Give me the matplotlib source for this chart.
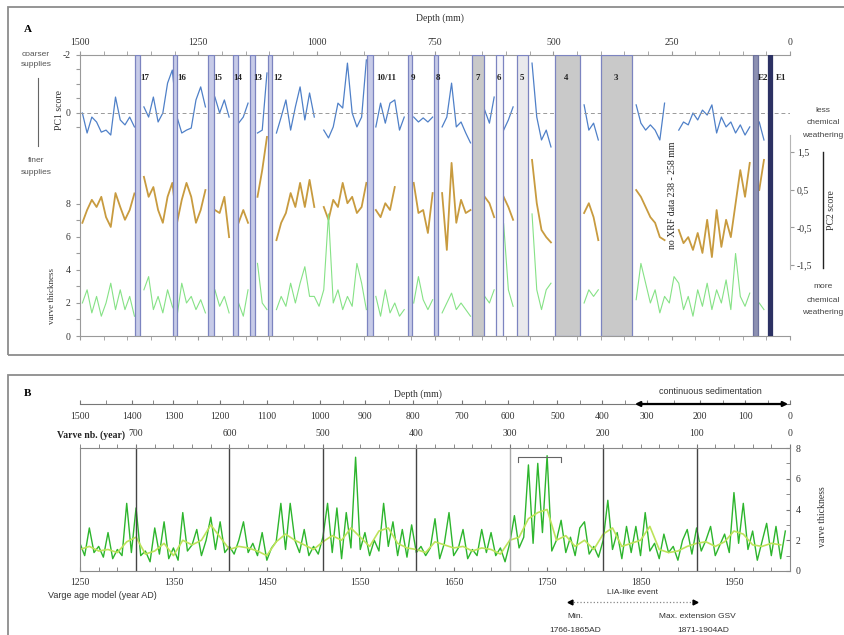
import numpy as np
import matplotlib
matplotlib.use("Agg")
import matplotlib.pyplot as plt
from matplotlib.lines import Line2D
from matplotlib.patches import Rectangle
from matplotlib.ticker import FixedLocator, MultipleLocator

plt.rcParams["font.family"] = "Liberation Serif"
SANS = "Liberation Sans"
nan = np.nan

# ---------------------------------------------------------------------------
# Panel A data: XRF PCA scores and thickness, 10 mm steps along depth
# ---------------------------------------------------------------------------
depth_a = np.arange(1495, 0, -10)

pc1 = [0.0, 0.69, 0.14, 0.31, 0.66, 0.59, 0.76, -0.55, 0.24, 0.41, 0.14, 0.48,
       nan,
       -0.21, 0.14, -0.55, 0.31, 0.0, -1.03, -1.48, 0.14, 0.69, 0.59, 0.52, -0.45, -0.90, -0.21,
       nan,
       -0.55, 0.0, -0.45, 0.14,
       nan,
       0.35, 0.14, -0.34,
       nan,
       0.69, 0.59, -1.38,
       nan,
       0.69, 0.14, -0.45, 0.59, -0.21, -0.90, 0.24, -0.69, 0.14,
       nan,
       0.59, 0.86, 0.48, -0.34, -0.17, -1.72, 0.0, 0.48, 0.14, -1.83,
       nan,
       0.48, -0.34, 0.35, -0.34, -0.45, 0.59, 0.14,
       nan,
       0.14, 0.31, 0.17, 0.31, 0.14,
       nan,
       0.48, 0.14, -1.03, 0.48, 0.31, 0.69, 1.03,
       nan, nan,
       -0.10, 0.35, -0.55,
       nan,
       0.59, 0.24, -0.21,
       nan, nan, nan,
       -1.72, 0.14, 0.93, 0.59, 1.17,
       nan, nan, nan, nan, nan, nan,
       -0.28, 0.59, 0.35, 0.93,
       nan, nan, nan, nan, nan, nan, nan,
       -0.28, 0.35, 0.59, 0.41, 0.59, 0.93, -0.34,
       nan, nan,
       0.59, 0.31, 0.41, 0.0, 0.24, -0.10, 0.07, -0.28, 0.69, 0.14, 0.48, 0.31, 0.69, 0.41, 0.76, 0.48,
       nan,
       0.31, 0.93,
       nan, nan, nan, nan, nan]

pc2 = [-0.38, -0.04, 0.23, 0.04, 0.31, -0.23, -0.49, 0.41, 0.04, -0.30, -0.04, 0.40,
       nan,
       0.84, 0.31, 0.57, -0.04, -0.38, 0.31, 0.68, -0.38, 0.23, 0.68, 0.31, -0.38, -0.04, 0.49,
       nan,
       -0.04, -0.12, 0.31, -0.76,
       nan,
       -0.38, -0.04, -0.38,
       nan,
       0.31, 1.02, 1.90,
       nan,
       -0.84, -0.38, -0.12, 0.41, 0.04, 0.68, 0.04, 0.76, 0.04,
       nan,
       0.04, -0.30, 0.23, 0.04, 0.68, 0.14, 0.31, -0.12, 0.04, 0.68,
       nan,
       -0.04, -0.23, 0.14, -0.04, 0.57,
       nan, nan, nan,
       0.68, -0.12, -0.04, -0.65, 0.41,
       nan,
       0.41, -1.10, 1.21, -0.38, 0.23, -0.12, -0.04,
       nan, nan,
       0.31, 0.14, -0.23,
       nan,
       0.31, 0.04, -0.30,
       nan, nan, nan,
       1.29, 0.14, -0.57, -0.76, -0.90,
       nan, nan, nan, nan, nan, nan,
       -0.12, 0.14, -0.23, -0.84,
       nan, nan, nan, nan, nan, nan, nan,
       0.49, 0.31, 0.04, -0.23, -0.38, -0.76, -0.84,
       nan, nan,
       -0.57, -0.92, -0.76, -1.10, -0.65, -1.18, -0.30, -1.29, -0.04, -1.02, -0.30, -0.76, 0.14, 1.02, 0.31, 1.21,
       nan,
       0.49, 1.29,
       nan, nan, nan, nan, nan]

thick_a = [2.0, 2.8, 1.4, 2.4, 1.2, 2.0, 3.2, 1.6, 2.8, 1.6, 2.4, 1.2,
           nan,
           2.8, 3.6, 1.6, 2.4, 1.4, 2.8, 1.8, 1.2, 3.2, 2.0, 2.4, 1.6, 2.2, 1.4,
           nan,
           2.8, 1.8, 2.4, 1.4,
           nan,
           2.0, 1.2, 2.8,
           nan,
           4.4, 2.0, 1.6,
           nan,
           1.6, 2.4, 1.8, 3.2, 2.0, 3.2, 4.2, 2.4, 2.4, 1.8,
           2.8, 7.4, 2.0, 2.8, 1.6, 2.4, 1.8, 4.4, 3.2, 1.6,
           nan,
           2.4, 1.2, 2.8, 1.4, 2.0, 1.2, 1.6,
           nan,
           2.0, 3.6, 2.2, 1.6, 2.2,
           nan,
           1.4, 2.0, 2.6, 1.6, 2.0, 1.6, 1.2,
           nan, nan,
           2.4, 2.0, 2.8,
           nan,
           6.8, 2.8, 1.8,
           nan, nan, nan,
           7.4, 2.8, 1.6, 2.8, 3.2,
           nan, nan, nan, nan, nan, nan,
           2.0, 2.8, 2.4, 2.8,
           nan, nan, nan, nan, nan, nan, nan,
           2.2, 4.4, 3.2, 2.0, 2.8, 1.4, 2.4, 2.0, 3.6, 3.2, 1.6, 2.4, 1.2,
           2.8, 1.8, 3.2, 1.6, 2.8, 2.0, 3.4, 1.6, 5.0, 2.4, 1.8, 2.6,
           nan,
           2.0, 1.6,
           nan, nan, nan, nan, nan]

# event layers (depth in mm)
events      = ["17", "16", "15", "14", "13", "12", "10/11", "9", "8", "7", "6", "5", "4", "3", "E2", "E1"]
event_top   = [1384, 1304, 1229, 1176, 1141, 1103, 894, 808, 752, 672, 621, 576, 496, 400, 78, 46]
event_base  = [1373, 1296, 1216, 1166, 1130, 1094, 882, 799, 743, 646, 607, 553, 444, 334, 68, 38]
event_label = [1363, 1285, 1208, 1166, 1124, 1082, 854, 797, 744, 659, 615, 566, 473, 368, 57, 19]
no_xrf = (238, 258)

depth_ticks_a = [1500, 1250, 1000, 750, 500, 250, 0]

# ---------------------------------------------------------------------------
# Panel B data: varve thickness vs age model
# ---------------------------------------------------------------------------
core_top_year = 2010
years_raw = np.arange(1250, 2006, 5)
thick_raw = [1.8, 1.0, 2.8, 1.2, 1.6, 0.9, 2.5, 0.8, 1.4, 1.0,
             4.4, 1.2, 4.1, 1.0, 1.3, 0.6, 2.8, 1.1, 3.2, 0.8,
             1.5, 0.7, 3.8, 1.3, 1.7, 2.7, 1.0, 2.0, 3.5, 1.4,
             3.2, 1.2, 1.6, 1.1, 2.0, 3.2, 1.2, 1.8, 1.0, 2.5,
             0.7, 1.5, 1.9, 4.4, 1.4, 4.4, 2.0, 1.2, 2.7, 1.0,
             1.6, 1.1, 2.2, 4.4, 1.2, 4.1, 0.8, 3.8, 1.5, 7.4,
             1.4, 2.5, 1.0, 2.0, 1.3, 4.4, 1.6, 3.2, 1.0, 2.7,
             0.9, 3.0, 1.2, 1.6, 1.0, 1.5, 3.4, 0.8, 1.8, 3.8,
             1.0, 1.5, 2.7, 0.8, 1.4, 1.0, 2.7, 1.2, 2.5, 1.0,
             1.5, 0.6, 1.8, 3.6, 1.5, 2.2, 6.9, 1.8, 7.0, 2.5,
             7.5, 1.3, 2.0, 3.3, 1.2, 2.2, 1.0, 2.8, 3.2, 1.1,
             1.6, 0.9, 2.0, 4.6, 1.4, 2.5, 0.8, 2.9, 1.2, 2.9,
             1.0, 3.8, 1.3, 1.8, 0.8, 2.4, 1.2, 1.6, 0.7, 2.0,
             2.7, 1.1, 2.8, 1.3, 2.0, 2.9, 1.0, 1.7, 2.4, 1.2,
             5.1, 1.8, 4.4, 1.4, 2.6, 0.7, 1.9, 3.1, 1.0, 2.9,
             0.8, 2.6]

years_smooth = np.arange(1250, 2001, 10)
thick_smooth = [1.4, 1.6, 1.3, 1.4, 1.2, 1.9, 2.2, 1.1, 1.3, 1.8,
                1.0, 2.0, 1.7, 2.0, 3.0, 2.2, 1.4, 1.6, 1.5, 1.3,
                1.0, 1.9, 2.4, 2.0, 1.7, 1.4, 1.9, 2.3, 2.0, 2.8,
                2.2, 1.6, 2.6, 2.8, 1.8, 1.5, 1.4, 1.2, 1.9, 1.7,
                1.5, 1.6, 1.3, 1.5, 1.4, 1.1, 2.0, 2.2, 3.4, 3.8,
                4.0, 2.0, 2.3, 1.6, 2.0, 1.4, 2.4, 2.8, 1.6, 1.8,
                2.0, 2.9, 1.4, 1.2, 1.3, 1.6, 1.8, 1.9, 1.6, 1.9,
                2.6, 2.4, 1.7, 1.6, 1.8, 1.7]

varve_lines = [700, 600, 500, 400, 300, 200, 100]
varve_ticks = [700, 600, 500, 400, 300, 200, 100, 0]
year_ticks = [1250, 1350, 1450, 1550, 1650, 1750, 1850, 1950]
depth_ticks_b = [1500, 1400, 1300, 1200, 1100, 1000, 900, 800, 700, 600, 500, 400, 300, 200, 100, 0]
depth_tick_year = [1250, 1306, 1350, 1400, 1450, 1507, 1555, 1606, 1659, 1708, 1761, 1809, 1857, 1914, 1962, 2010]
lia_bracket = (1719, 1765)
lia_arrow = (1775, 1908)
continuous_from = 1844

# ---------------------------------------------------------------------------
# Figure
# ---------------------------------------------------------------------------
W, H = 845.0, 635.0
fig = plt.figure(figsize=(W / 100, H / 100), dpi=100)


def fx(px):
    return px / W


def fy(py):
    return 1 - py / H


def ftext(px, py, s, **kw):
    fig.text(fx(px), fy(py), s, ha=kw.pop("ha", "center"), va=kw.pop("va", "center"), **kw)


GRAY = "#9a9a9a"
TXT = "#333333"
L, R = 80, 790

# panel frames
fig.add_artist(Rectangle((fx(8), fy(355)), 1.0, fy(7) - fy(355), transform=fig.transFigure,
                         fill=False, edgecolor="#8c8c8c", lw=1.3))
fig.add_artist(Rectangle((fx(8), fy(650)), 1.0, fy(375) - fy(650), transform=fig.transFigure,
                         fill=False, edgecolor="#8c8c8c", lw=1.3))

# ---------------------------- Panel A --------------------------------------
a_top, a_bot = 55, 336
axA = fig.add_axes([fx(L), fy(a_bot), fx(R) - fx(L), fy(a_top) - fy(a_bot)])
ax_pc2 = axA.twinx()
ax_th = axA.twinx()
ax_ev = axA.twinx()

axA.plot(depth_a, pc1, color="#4f80c8", lw=0.9)
axA.axhline(0, color="#9a9a9a", lw=0.7, ls=(0, (4, 3)))
ax_pc2.plot(depth_a, pc2, color="#c89b3f", lw=1.3)
ax_th.plot(depth_a, thick_a, color="#86e286", lw=0.8)

axA.set_xlim(1500, 0)
axA.set_ylim(7.69, -2)
ax_pc2.set_ylim(-3.385, 4.075)
ax_th.set_ylim(0, 17.03)
ax_ev.set_ylim(0, 1)

band_edge = "#7c84c0"
for name, top, base, lab in zip(events, event_top, event_base, event_label):
    face = "#c7cbe8"
    edge = band_edge
    if name in ("7", "4", "3"):
        face = "#c9c9c9"
    elif name == "6":
        face = "#f6f6fa"
    elif name == "5":
        face = "#e9e9ec"
    elif name == "E2":
        face, edge = "#8d91b2", "#6c719c"
    elif name == "E1":
        face, edge = "#2c3163", "#2c3163"
    ax_ev.axvspan(base, top, facecolor=face, edgecolor=edge, lw=0.9, zorder=3)
    ax_ev.text(lab, (a_bot - 78) / (a_bot - a_top), name, ha="center", va="center",
               fontsize=6.5, fontweight="bold", color="#222", zorder=5)
ax_ev.text(np.mean(no_xrf), (a_bot - 195) / (a_bot - a_top),
           f"no XRF data {no_xrf[0]} - {no_xrf[1]} mm", rotation=90,
           ha="center", va="center", fontsize=7, color="#222")
ax_ev.axis("off")

axA.xaxis.set_major_locator(FixedLocator(depth_ticks_a))
axA.xaxis.set_minor_locator(MultipleLocator(50))
axA.tick_params(axis="x", which="both", top=True, bottom=True, labeltop=True,
                labelbottom=False, direction="out", length=3, color=GRAY,
                labelsize=7, labelcolor=TXT, pad=3)
axA.set_yticks([-2, -1.5, -1, -0.5, 0, 0.5])
axA.set_yticklabels(["-2", "", "", "", "0", ""])
axA.tick_params(axis="y", direction="out", length=3, color=GRAY, labelsize=7,
                labelcolor=TXT, pad=4)
axA.spines["right"].set_visible(False)
for s in ("left", "top", "bottom"):
    axA.spines[s].set_color(GRAY)

ax_th.yaxis.set_ticks_position("left")
ax_th.set_yticks(range(0, 9))
ax_th.set_yticklabels(["0", "", "2", "", "4", "", "6", "", "8"])
ax_th.tick_params(axis="y", direction="out", length=3, color=GRAY, labelsize=7,
                  labelcolor=TXT, pad=4)
for s in ax_th.spines.values():
    s.set_visible(False)

ax_pc2.set_yticks([1.5, 0.5, -0.5, -1.5])
ax_pc2.set_yticklabels(["1,5", "0,5", "-0,5", "-1,5"])
ax_pc2.tick_params(axis="y", direction="out", length=3, color=GRAY, labelsize=7,
                   labelcolor=TXT, pad=2)
for s in ("left", "top", "bottom"):
    ax_pc2.spines[s].set_visible(False)
ax_pc2.spines["right"].set_bounds(-1.6, 1.95)
ax_pc2.spines["right"].set_color("#b5b5b5")

fig.text(fx(28), fy(30), "A", fontsize=8, fontweight="bold", ha="center", va="center")
ftext(440, 18, "Depth (mm)", fontsize=7, color=TXT)
ftext(60, 110, "PC1 score", rotation=90, fontsize=7, color=TXT)
ftext(52, 296, "varve thickness", rotation=90, fontsize=6.5, color=TXT)
ftext(832, 210, "PC2 score", rotation=90, fontsize=7, color=TXT)
fig.add_artist(Line2D([fx(823), fx(823)], [fy(152), fy(268)], color="#222", lw=1.0))

for py, s in zip([54, 65], ["coarser", "supplies"]):
    ftext(36, py, s, fontsize=6, color="#555", family=SANS)
fig.add_artist(Line2D([fx(38), fx(38)], [fy(78), fy(146)], color="#666", lw=0.8))
for py, s in zip([160, 172], ["finer", "supplies"]):
    ftext(36, py, s, fontsize=6, color="#555", family=SANS)
for py, s in zip([110, 123, 135], ["less", "chemical", "weathering"]):
    ftext(823, py, s, fontsize=6, color="#444", family=SANS)
for py, s in zip([287, 300, 313], ["more", "chemical", "weathering"]):
    ftext(823, py, s, fontsize=6, color="#444", family=SANS)

# ---------------------------- Panel B --------------------------------------
b_top, b_bot = 448, 571
axB = fig.add_axes([fx(L), fy(b_bot), fx(R) - fx(L), fy(b_top) - fy(b_bot)])
axB.plot(years_raw, thick_raw, color="#2db52d", lw=1.0)
axB.plot(years_smooth, thick_smooth, color="#bde35a", lw=1.2)
for v in varve_lines:
    axB.axvline(core_top_year - v, color="#a8a8a8" if v == 300 else "#444444", lw=1.0)
axB.plot([lia_bracket[0], lia_bracket[0], lia_bracket[1], lia_bracket[1]],
         [7.1, 7.4, 7.4, 7.1], color="#666", lw=0.8)
axB.set_xlim(1250, core_top_year)
axB.set_ylim(0, 8)

axB.xaxis.set_major_locator(FixedLocator(year_ticks))
axB.xaxis.set_minor_locator(FixedLocator(np.arange(1250, core_top_year + 1, 20)))
axB.tick_params(axis="x", which="both", direction="in", length=3, color="#777",
                labelsize=7, labelcolor=TXT, pad=5)
axB.yaxis.tick_right()
axB.set_yticks([0, 2, 4, 6, 8])
axB.yaxis.set_minor_locator(MultipleLocator(1))
axB.tick_params(axis="y", which="both", direction="in", length=3, color="#777",
                labelsize=7, labelcolor=TXT, pad=4)
for s in axB.spines.values():
    s.set_color("#8a8a8a")

sec_v = axB.secondary_xaxis("top", functions=(lambda y: core_top_year - y,
                                              lambda v: core_top_year - v))
sec_v.set_xticks(varve_ticks)
sec_v.xaxis.set_minor_locator(MultipleLocator(20))
sec_v.tick_params(axis="x", which="both", direction="out", length=3, color="#777",
                  labelsize=7, labelcolor=TXT, pad=4)
sec_v.spines["top"].set_visible(False)

dy = np.array(depth_tick_year, dtype=float)
dd = np.array(depth_ticks_b, dtype=float)
sec_d = axB.secondary_xaxis((b_bot - 404) / (b_bot - b_top),
                            functions=(lambda y: np.interp(y, dy, dd),
                                       lambda d: np.interp(d, dd[::-1], dy[::-1])))
sec_d.set_alignment("bottom")
sec_d.set_xticks(depth_ticks_b)
sec_d.xaxis.set_minor_locator(MultipleLocator(50))
sec_d.tick_params(axis="x", which="both", direction="in", length=3, color="#777",
                  labelsize=7, labelcolor=TXT, pad=6)
sec_d.spines["bottom"].set_color("#777")

trB = axB.get_xaxis_transform()
y_cont = (b_bot - 404) / (b_bot - b_top)
axB.annotate("", xy=(core_top_year - 2, y_cont), xytext=(continuous_from, y_cont),
             xycoords=trB, textcoords=trB, annotation_clip=False,
             arrowprops=dict(arrowstyle="<|-|>", color="black", lw=1.6,
                             mutation_scale=7, shrinkA=0, shrinkB=0))
y_lia = (b_bot - 602) / (b_bot - b_top)
axB.plot(list(lia_arrow), [y_lia, y_lia], transform=trB, ls=":", color="#888", lw=0.9, clip_on=False)
axB.plot([lia_arrow[0]], [y_lia], transform=trB, marker="<", ms=3.5, color="k", clip_on=False)
axB.plot([lia_arrow[1]], [y_lia], transform=trB, marker=">", ms=3.5, color="k", clip_on=False)
axB.set_xlim(1250, core_top_year)

fig.text(fx(28), fy(393), "B", fontsize=8, fontweight="bold", ha="center", va="center")
ftext(418, 394, "Depth (mm)", fontsize=7, color=TXT)
ftext(710, 392, "continuous sedimentation", fontsize=6.5, color=TXT, family=SANS)
ftext(125, 435, "Varve nb. (year)", ha="right", fontsize=7, fontweight="bold", color="#222")
ftext(823, 517, "varve thickness", rotation=90, fontsize=7, color=TXT)
ftext(48, 595, "Varge age model (year AD)", ha="left", fontsize=6.5, color=TXT, family=SANS)
ftext(633, 592, "LIA-like event", fontsize=6, color=TXT, family=SANS)
ftext(575, 617, "Min.", fontsize=6, color=TXT, family=SANS)
ftext(575, 631, "1766-1865AD", fontsize=6, color=TXT, family=SANS)
ftext(697, 617, "Max. extension GSV", fontsize=6, color=TXT, family=SANS)
ftext(703, 631, "1871-1904AD", fontsize=6, color=TXT, family=SANS)

fig.savefig("out.png", dpi=100)
